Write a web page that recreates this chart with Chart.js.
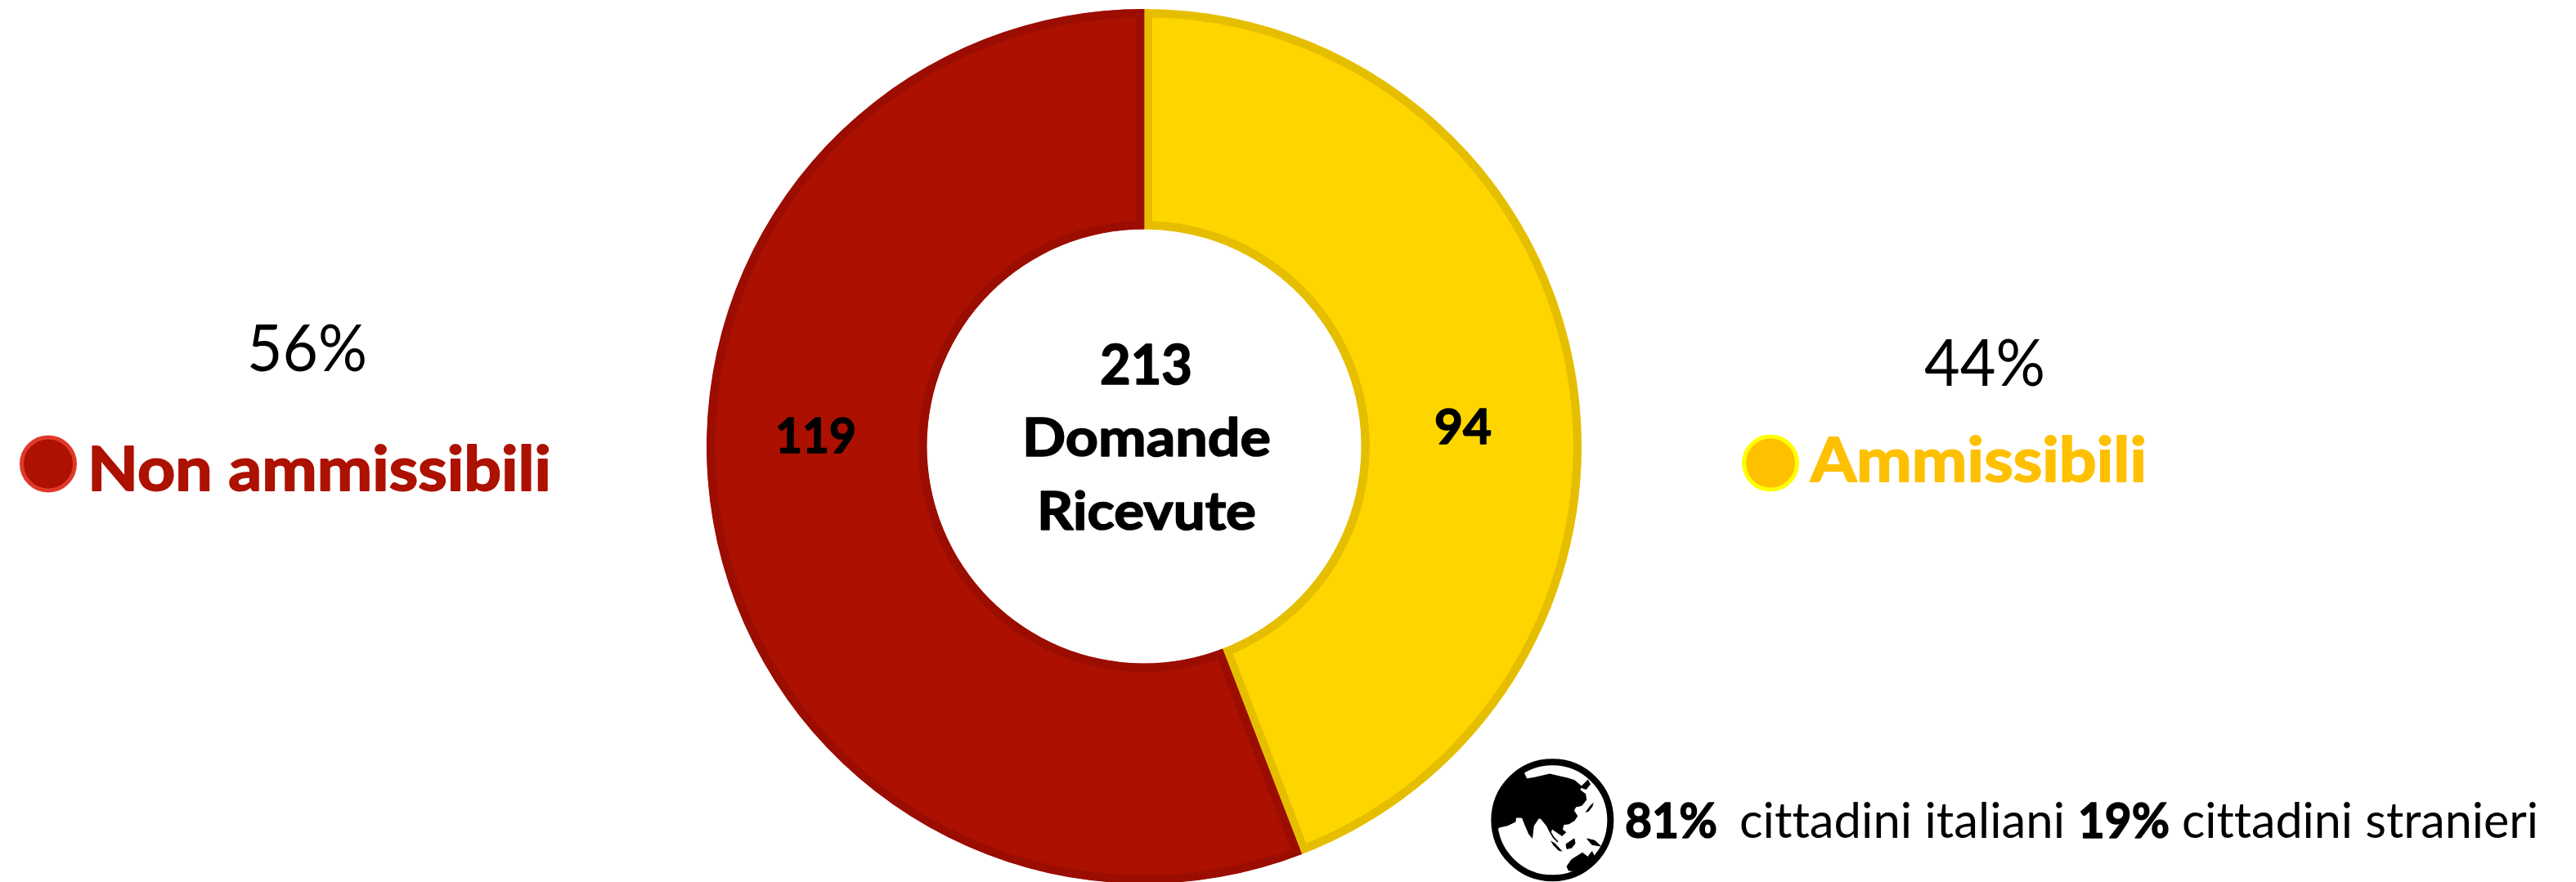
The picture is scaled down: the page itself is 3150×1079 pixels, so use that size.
<!DOCTYPE html>
<html><head><meta charset="utf-8">
<style>html,body{margin:0;padding:0;background:#fff;overflow:hidden;width:3150px;height:1079px}
canvas{display:block}</style>
<script src="https://cdn.jsdelivr.net/npm/chart.js@4"></script></head>
<body><canvas id="c" width="3150" height="1092"></canvas>
<script>
const categories = ['Ammissibili', 'Non ammissibili'];
const values = [94, 119];
const percents = ['44%', '56%'];
const totalLines = ['213', 'Domande', 'Ricevute'];

const FONT = 'Lato, Carlito, sans-serif';
function fitText(ctx, str, x, base, size, weight, color, width) {
  ctx.save();
  ctx.font = weight + ' ' + size + 'px ' + FONT;
  ctx.letterSpacing = '0.01px';
  ctx.fillStyle = color;
  ctx.strokeStyle = color;
  ctx.textAlign = 'left';
  ctx.textBaseline = 'alphabetic';
  const w = ctx.measureText(str).width;
  ctx.translate(x, base);
  ctx.scale(width / w, 1);
  ctx.fillText(str, 0, 0);
  if (weight >= 700) { ctx.lineWidth = size / 40; ctx.lineJoin = 'round'; ctx.strokeText(str, 0, 0); }
  ctx.restore();
}
function globe(ctx) {
  ctx.save();
  ctx.translate(1810, 920); ctx.scale(1/3, 1/3);
  ctx.fillStyle = '#000'; ctx.strokeStyle = '#000';
  const p = (a, grow) => { const q = new Path2D(); a.forEach((v, i) => i ? q.lineTo(v[0], v[1]) : q.moveTo(v[0], v[1])); q.closePath(); ctx.fill(q); if (grow) { ctx.lineWidth = grow; ctx.stroke(q); } };
  ctx.beginPath(); ctx.arc(265, 250, 213, 0, Math.PI * 2); ctx.lineWidth = 24; ctx.stroke();
  ctx.save();
  ctx.beginPath(); ctx.arc(265, 250, 205, 0, Math.PI * 2); ctx.clip();
  p([[40,40],[160,40],[160,78],[170,100],[200,95],[230,88],[255,82],[290,90],[320,97],[345,105],[372,128],[395,105],[402,118],[388,135],[368,128],[365,140],[385,155],[388,175],[372,195],[350,200],[342,215],[355,235],[345,250],[325,262],[305,265],[300,285],[312,295],[300,306],[280,292],[262,280],[258,295],[268,312],[285,330],[270,315],[255,290],[245,270],[225,245],[215,240],[195,270],[190,312],[180,300],[165,265],[155,240],[130,238],[128,255],[100,268],[70,275],[40,290]], 5);
  p([[385,222],[405,195],[416,185],[412,200],[398,218]]);
  p([[258,325],[275,335],[302,365],[288,362],[268,342]]);
  p([[315,338],[345,318],[348,335],[335,352],[318,355]], 3);
  p([[392,318],[420,325],[442,345],[410,340]], 3);
  p([[318,420],[335,395],[375,370],[395,385],[410,365],[425,395],[420,420],[380,438],[325,435]], 3);
  ctx.restore();
  ctx.restore();
}
const overlay = {
  id: 'overlay',
  afterDraw(chart) {
    const ctx = chart.ctx;
    const red = '#AD1100', gold = '#FFC000';
    // centre text
    fitText(ctx, totalLines[0], 1345, 470, 66, 700, '#000', 113);
    fitText(ctx, totalLines[1], 1250, 558, 65, 700, '#000', 304);
    fitText(ctx, totalLines[2], 1268, 648, 65, 700, '#000', 268);
    // value labels
    fitText(ctx, String(values[1]), 948, 554, 60, 700, '#000', 99);
    fitText(ctx, String(values[0]), 1754, 543, 60, 700, '#000', 70);
    // side labels
    fitText(ctx, percents[1], 302, 454, 80, 400, '#000', 147);
    fitText(ctx, categories[1], 107, 600, 75, 700, red, 567);
    fitText(ctx, percents[0], 2353, 472, 80, 400, '#000', 148);
    fitText(ctx, categories[0], 2214, 589, 75, 700, gold, 411);
    // legend dots
    [[59, 567.5, red, '#E0392A'], [2165, 566.5, gold, '#FFFF00']].forEach(d => {
      ctx.beginPath(); ctx.arc(d[0], d[1], 32.5, 0, Math.PI * 2);
      ctx.fillStyle = d[2]; ctx.fill();
      ctx.lineWidth = 5; ctx.strokeStyle = d[3]; ctx.stroke();
    });
    // footer
    globe(ctx);
    fitText(ctx, '81%', 1987, 1025, 60, 700, '#000', 113);
    fitText(ctx, 'cittadini italiani', 2127, 1025, 60, 400, '#000', 398);
    fitText(ctx, '19%', 2541, 1025, 60, 700, '#000', 112);
    fitText(ctx, 'cittadini stranieri', 2668, 1025, 60, 400, '#000', 436);
  }
};
new Chart(document.getElementById('c'), {
  type: 'doughnut',
  data: { labels: categories, datasets: [{
    data: values,
    backgroundColor: ['#FFD500', '#AB1000'],
    borderColor: ['#E6BE00', '#9A0D00'],
    borderWidth: 10,
    borderAlign: 'inner',
    borderJoinStyle: 'miter'
  }]},
  options: {
    responsive: false, animation: false,
    radius: 535, cutout: 271,
    layout: { padding: { left: 0, right: 352, top: 0, bottom: 0 } },
    plugins: { legend: { display: false }, tooltip: { enabled: false } }
  },
  plugins: [overlay]
});
</script></body></html>
